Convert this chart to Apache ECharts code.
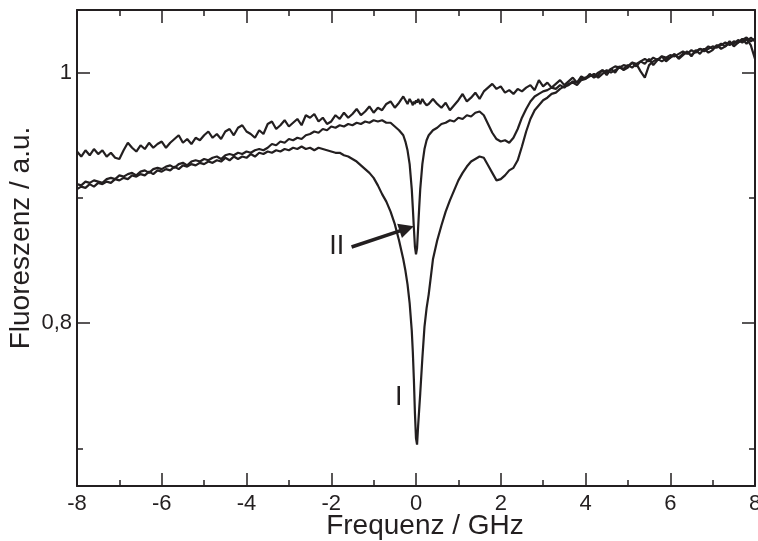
<!DOCTYPE html>
<html><head><meta charset="utf-8">
<script src="https://cdn.jsdelivr.net/npm/echarts@6/dist/echarts.min.js"></script>
<style>html,body{margin:0;padding:0;background:#fff}#c{width:758px;height:541px}</style>
</head><body><div id="c"></div>
<script>
// Frequency grid (GHz)
const freq = [
-8.0,-7.9,-7.8,-7.7,-7.6,-7.5,-7.4,-7.3,-7.2,-7.1,
-7.0,-6.9,-6.8,-6.7,-6.6,-6.5,-6.4,-6.3,-6.2,-6.1,
-6.0,-5.9,-5.8,-5.7,-5.6,-5.5,-5.4,-5.3,-5.2,-5.1,
-5.0,-4.9,-4.8,-4.7,-4.6,-4.5,-4.4,-4.3,-4.2,-4.1,
-4.0,-3.9,-3.8,-3.7,-3.6,-3.5,-3.4,-3.3,-3.2,-3.1,
-3.0,-2.9,-2.8,-2.7,-2.6,-2.5,-2.4,-2.3,-2.2,-2.1,
-2.0,-1.9,-1.8,-1.7,-1.6,-1.5,-1.4,-1.3,-1.2,-1.1,
-1.0,-0.9,-0.8,-0.7,-0.6,-0.5,-0.4,-0.3,-0.25,-0.2,
-0.15,-0.1,-0.075,-0.05,-0.025,0,0.025,0.05,0.075,0.1,
0.15,0.2,0.25,0.3,0.4,0.5,0.6,0.7,0.8,0.9,
1.0,1.1,1.2,1.3,1.4,1.5,1.6,1.7,1.8,1.9,
2.0,2.1,2.2,2.3,2.4,2.5,2.6,2.7,2.8,2.9,
3.0,3.1,3.2,3.3,3.4,3.5,3.6,3.7,3.8,3.9,
4.0,4.1,4.2,4.3,4.4,4.5,4.6,4.7,4.8,4.9,
5.0,5.1,5.2,5.3,5.4,5.5,5.6,5.7,5.8,5.9,
6.0,6.1,6.2,6.3,6.4,6.5,6.6,6.7,6.8,6.9,
7.0,7.1,7.2,7.3,7.4,7.5,7.6,7.7,7.8,7.9,
8.0];

// Curve I (deep dip)
const curveI = [
0.907,0.909,0.908,0.911,0.909,0.912,0.911,0.913,0.912,0.915,
0.914,0.916,0.915,0.918,0.917,0.919,0.918,0.921,0.919,0.922,
0.921,0.923,0.922,0.925,0.923,0.926,0.925,0.927,0.926,0.928,
0.927,0.929,0.928,0.930,0.929,0.932,0.930,0.933,0.931,0.933,
0.932,0.935,0.933,0.936,0.935,0.937,0.936,0.938,0.937,0.939,
0.938,0.940,0.939,0.941,0.939,0.940,0.938,0.940,0.939,0.938,
0.937,0.936,0.936,0.934,0.933,0.931,0.929,0.926,0.923,0.920,
0.916,0.910,0.903,0.897,0.889,0.879,0.866,0.851,0.842,0.831,
0.816,0.794,0.777,0.755,0.728,0.708,0.703,0.718,0.731,0.744,
0.772,0.797,0.812,0.823,0.851,0.866,0.878,0.889,0.898,0.906,
0.914,0.920,0.925,0.929,0.931,0.933,0.932,0.926,0.920,0.914,
0.915,0.918,0.922,0.924,0.930,0.941,0.953,0.963,0.970,0.974,
0.978,0.980,0.983,0.984,0.987,0.989,0.990,0.993,0.992,0.995,
0.996,0.998,0.997,1.000,1.002,1.000,1.003,1.005,1.004,1.006,
1.005,1.008,1.007,1.009,1.011,1.009,1.012,1.010,1.013,1.012,
1.014,1.013,1.015,1.017,1.015,1.018,1.016,1.019,1.018,1.021,
1.019,1.021,1.023,1.021,1.024,1.023,1.026,1.024,1.027,1.022,
1.011];

// Curve II (narrow dip)
const curveII = [
0.911,0.910,0.913,0.912,0.914,0.913,0.912,0.915,0.916,0.915,
0.918,0.917,0.919,0.920,0.918,0.921,0.922,0.920,0.923,0.924,
0.923,0.925,0.926,0.924,0.927,0.928,0.926,0.929,0.930,0.929,
0.931,0.930,0.932,0.933,0.931,0.934,0.935,0.934,0.936,0.935,
0.937,0.936,0.938,0.939,0.938,0.940,0.943,0.942,0.945,0.944,
0.947,0.946,0.948,0.947,0.950,0.951,0.953,0.952,0.955,0.954,
0.957,0.956,0.958,0.957,0.959,0.958,0.960,0.959,0.961,0.960,
0.962,0.961,0.962,0.960,0.960,0.957,0.954,0.950,0.945,0.938,
0.927,0.907,0.892,0.876,0.861,0.855,0.860,0.876,0.892,0.907,
0.927,0.939,0.946,0.950,0.954,0.956,0.959,0.960,0.962,0.961,
0.964,0.963,0.966,0.965,0.968,0.969,0.966,0.959,0.952,0.947,
0.945,0.946,0.944,0.948,0.955,0.964,0.971,0.977,0.981,0.983,
0.985,0.986,0.988,0.987,0.990,0.988,0.991,0.992,0.990,0.994,
0.995,0.997,0.999,0.996,0.999,1.002,1.000,1.002,1.004,1.003,
1.006,1.004,1.007,1.001,0.996,1.006,1.009,1.011,1.009,1.011,
1.012,1.014,1.012,1.015,1.016,1.014,1.017,1.019,1.017,1.019,
1.021,1.020,1.022,1.024,1.022,1.025,1.024,1.026,1.028,1.025,
1.027];

// Curve III (top, no dip)
const curveIII = [
0.937,0.933,0.938,0.934,0.939,0.935,0.938,0.933,0.936,0.932,
0.931,0.938,0.944,0.940,0.937,0.942,0.939,0.944,0.940,0.943,
0.945,0.940,0.944,0.947,0.950,0.944,0.947,0.943,0.948,0.946,
0.950,0.953,0.948,0.951,0.947,0.953,0.955,0.950,0.956,0.958,
0.953,0.951,0.948,0.954,0.951,0.959,0.961,0.955,0.958,0.962,
0.957,0.960,0.963,0.958,0.966,0.964,0.967,0.961,0.964,0.959,
0.961,0.966,0.963,0.968,0.964,0.967,0.971,0.966,0.969,0.973,
0.968,0.972,0.970,0.975,0.977,0.972,0.976,0.981,0.978,0.975,
0.979,0.976,0.974,0.977,0.975,0.978,0.976,0.979,0.977,0.975,
0.979,0.976,0.974,0.975,0.979,0.975,0.972,0.976,0.970,0.974,
0.978,0.983,0.977,0.980,0.984,0.979,0.985,0.988,0.991,0.987,
0.989,0.984,0.986,0.983,0.987,0.985,0.988,0.990,0.986,0.994,
0.989,0.992,0.988,0.991,0.994,0.990,0.993,0.996,0.992,0.997,
0.995,0.999,0.996,0.998,1.002,0.998,1.003,1.000,1.005,1.002,
1.004,1.008,1.005,1.009,1.007,1.011,1.006,1.010,1.013,1.009,
1.012,1.015,1.011,1.014,1.017,1.013,1.018,1.015,1.019,1.016,
1.018,1.022,1.019,1.021,1.025,1.021,1.024,1.027,1.023,1.028,
1.025];

const yMajorTicks = [0.8, 1.0];
const yMinorTicks = [0.7, 0.9];

// Annotations (data coordinates)
const annoLabels = [
  { name: 'II', coord: [-1.87, 0.861] },
  { name: 'I',  coord: [-0.41, 0.741] }
];
const arrowStart = [-1.52, 0.8608];
const arrowEnd = [-0.22, 0.8755];

const font = "'Liberation Sans', Arial, Helvetica, sans-serif";
const ink = '#231f20';

const chart = echarts.init(document.getElementById('c'), null, { renderer: 'canvas' });

const axisLineStyle = { show: true, onZero: false, lineStyle: { color: ink, width: 2 } };
const majorTick = { show: true, inside: true, length: 13, lineStyle: { color: ink, width: 1.5 } };
const minorTick = { show: true, splitNumber: 2, length: 6, lineStyle: { color: ink, width: 1.5 } };

function xAx(pos, withLabels) {
  const a = {
    type: 'value', min: -8, max: 8, interval: 2, position: pos,
    axisLine: axisLineStyle, axisTick: majorTick, minorTick: minorTick,
    splitLine: { show: false }, minorSplitLine: { show: false },
    axisLabel: { show: withLabels, fontSize: 22, color: ink, fontFamily: font, margin: 7 }
  };
  if (withLabels) {
    a.name = 'Frequenz / GHz';
    a.nameLocation = 'middle';
    a.nameGap = 26;
    a.nameMoveOverlap = false;
    a.nameTextStyle = { fontSize: 28, color: ink, fontFamily: font, padding: [0, 0, 0, 18] };
  }
  return a;
}
function yAx(pos, ticks, len, withLine, withLabels) {
  const a = {
    type: 'value', min: 0.67, max: 1.05, position: pos, offset: 0,
    axisLine: withLine ? axisLineStyle : { show: false, onZero: false },
    axisTick: { show: true, inside: true, length: len, customValues: ticks, lineStyle: { color: ink, width: 1.5 } },
    splitLine: { show: false },
    axisLabel: withLabels ? {
      show: true, customValues: ticks, fontSize: 22, color: ink, fontFamily: font, margin: 5,
      formatter: v => String(Math.round(v * 10) / 10).replace('.', ',')
    } : { show: false }
  };
  if (withLabels) {
    a.name = 'Fluoreszenz / a.u.';
    a.nameLocation = 'middle';
    a.nameGap = 42;
    a.nameMoveOverlap = false;
    a.nameTextStyle = { fontSize: 28, color: ink, fontFamily: font, padding: [0, 0, 0, 20] };
  }
  return a;
}

function lineSeries(name, vals, extra) {
  return Object.assign({
    name: name, type: 'line', xAxisIndex: 0, yAxisIndex: 0,
    data: freq.map((f, i) => [f, vals[i]]),
    showSymbol: false, symbol: 'none', smooth: false,
    lineStyle: { color: ink, width: 2.2 },
    animation: false
  }, extra || {});
}

chart.setOption({
  animation: false,
  backgroundColor: '#fff',
  grid: { left: 77, right: 3, top: 10, bottom: 55, containLabel: false, outerBoundsMode: 'none' },
  xAxis: [xAx('bottom', true), xAx('top', false)],
  yAxis: [
    yAx('left', yMajorTicks, 13, true, true),
    yAx('right', yMajorTicks, 13, true, false),
    yAx('left', yMinorTicks, 6, false, false),
    yAx('right', yMinorTicks, 6, false, false)
  ],
  series: [
    lineSeries('III', curveIII),
    lineSeries('I', curveI),
    lineSeries('II', curveII, {
      markLine: {
        silent: true, animation: false,
        symbol: ['none', 'triangle'], symbolSize: 15,
        lineStyle: { color: ink, width: 3.5, type: 'solid' },
        label: { show: false },
        emphasis: { disabled: true },
        data: [[{ coord: arrowStart }, { coord: arrowEnd }]]
      },
      markPoint: {
        silent: true, animation: false,
        symbol: 'circle', symbolSize: 0,
        itemStyle: { color: 'transparent' },
        label: { show: true, position: 'inside', formatter: p => p.name, fontSize: 27, color: ink, fontFamily: font },
        data: annoLabels
      }
    })
  ]
});
</script>
</body></html>
